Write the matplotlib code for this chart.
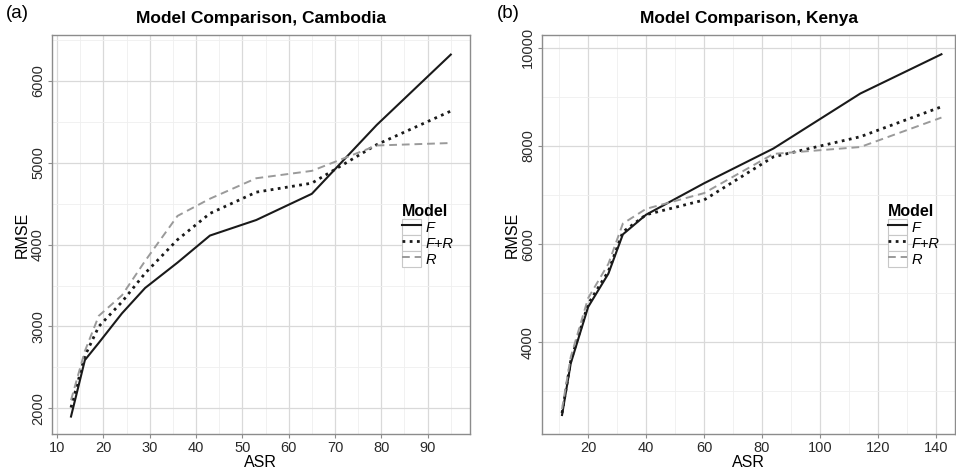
import matplotlib
matplotlib.use("Agg")
import matplotlib.pyplot as plt
from matplotlib.legend_handler import HandlerLine2D
from matplotlib.patches import Rectangle
from matplotlib.ticker import MultipleLocator

plt.rcParams['font.family'] = ['Liberation Sans', 'DejaVu Sans']

# Cambodia
asr_cam = [13, 16, 19, 24, 29, 36, 43, 53, 65, 79, 95]
f_cam = [1900, 2590, 2800, 3160, 3470, 3780, 4110, 4300, 4620, 5460, 6320]
fr_cam = [2010, 2640, 3000, 3300, 3650, 4060, 4380, 4640, 4750, 5220, 5630]
r_cam = [2100, 2700, 3130, 3380, 3800, 4350, 4560, 4810, 4900, 5210, 5240]

# Kenya
asr_ken = [11, 14, 20, 27, 32, 40, 60, 84, 114, 142]
f_ken = [2520, 3570, 4720, 5400, 6200, 6600, 7240, 7950, 9070, 9870]
fr_ken = [2560, 3620, 4780, 5450, 6250, 6600, 6900, 7780, 8190, 8800]
r_ken = [2640, 3700, 4900, 5600, 6420, 6720, 7040, 7840, 7980, 8580]

models = ['F', 'F+R', 'R']


class BoxedLine(HandlerLine2D):
    # ggplot-style legend key: line inside a light grey box
    def create_artists(self, legend, orig_handle, xdescent, ydescent,
                       width, height, fontsize, trans):
        arts = super().create_artists(legend, orig_handle, xdescent, ydescent,
                                      width, height, fontsize, trans)
        box = Rectangle((-xdescent, -ydescent), width, height, fc='white',
                        ec='#c8c8c8', lw=0.8, transform=trans)
        return [box] + list(arts)


def panel(ax, x, f, fr, r, title, tag, xlim, ylim, xmaj, xmin, ymaj, ymin):
    ax.plot(x, f, color='#1a1a1a', lw=1.5, ls='-', label=models[0])
    ax.plot(x, fr, color='#1a1a1a', lw=2.0, ls=(0, (1, 1.6)), label=models[1])
    ax.plot(x, r, color='#9a9a9a', lw=1.4, ls=(0, (4, 2.5)), label=models[2])
    ax.set_xlim(*xlim)
    ax.set_ylim(*ylim)
    ax.xaxis.set_major_locator(MultipleLocator(xmaj))
    ax.xaxis.set_minor_locator(MultipleLocator(xmin))
    ax.yaxis.set_major_locator(MultipleLocator(ymaj))
    ax.yaxis.set_minor_locator(MultipleLocator(ymin))
    ax.grid(True, which='major', color='#d9d9d9', lw=0.9)
    ax.grid(True, which='minor', color='#efefef', lw=0.6)
    ax.set_axisbelow(True)
    for s in ax.spines.values():
        s.set_color('#8c8c8c')
        s.set_linewidth(1.0)
    ax.tick_params(which='major', length=3, color='#8c8c8c', labelsize=10.5,
                   labelcolor='#2a2a2a', pad=2)
    ax.tick_params(which='minor', length=0)
    plt.setp(ax.get_yticklabels(), rotation=90, va='center')
    ax.set_xlabel('ASR', fontsize=11.5, labelpad=0)
    ax.set_ylabel('RMSE', fontsize=11.5, labelpad=1)
    ax.set_title(title, fontsize=12.5, fontweight='bold', pad=9)
    ax.text(-0.11, 1.055, tag, transform=ax.transAxes, fontsize=13.5,
            va='center', ha='left')
    leg = ax.legend(title='Model', loc='upper left',
                    bbox_to_anchor=(0.82, 0.595), frameon=False,
                    handler_map={plt.Line2D: BoxedLine()},
                    handlelength=1.3, handleheight=1.3, labelspacing=0,
                    handletextpad=0.3, borderpad=0, fontsize=10.5)
    leg.get_title().set_fontweight('bold')
    leg.get_title().set_fontsize(11.5)
    leg._legend_box.align = 'left'
    for t in leg.get_texts():
        t.set_fontstyle('italic')


fig = plt.figure(figsize=(9.56, 4.72), dpi=100)
ax1 = fig.add_axes([0.0544, 0.0805, 0.437, 0.845])
ax2 = fig.add_axes([0.567, 0.0805, 0.432, 0.845])

panel(ax1, asr_cam, f_cam, fr_cam, r_cam, 'Model Comparison, Cambodia', '(a)',
      (8.9, 99.1), (1687, 6557), 10, 5, 1000, 500)
panel(ax2, asr_ken, f_ken, fr_ken, r_ken, 'Model Comparison, Kenya', '(b)',
      (4.1, 146.7), (2133, 10259), 20, 10, 2000, 1000)

fig.savefig('out.png', dpi=100)
